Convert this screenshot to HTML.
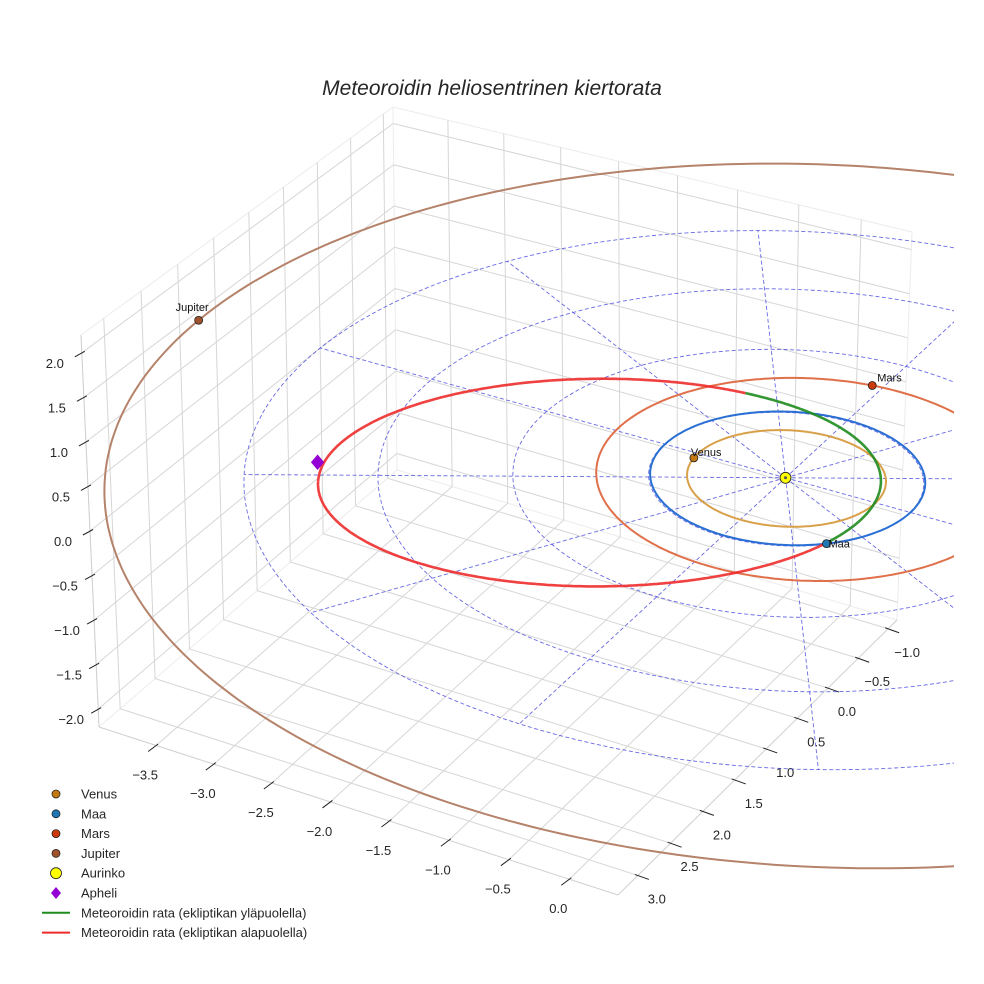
<!DOCTYPE html>
<html><head><meta charset="utf-8"><style>
html,body{margin:0;padding:0;background:#fff;}
svg{display:block;font-family:"Liberation Sans",sans-serif;}
</style></head><body>
<svg id="chart" width="984" height="984" viewBox="0 0 984 984">
<defs><clipPath id="clip"><rect x="0" y="0" width="954" height="984"/></clipPath></defs>
<text x="492" y="95" text-anchor="middle" font-size="21" font-style="italic" fill="#262626">Meteoroidin heliosentrinen kiertorata</text>
<g id="grid"></g>
<g id="ticks"></g>
<g id="plot" clip-path="url(#clip)"></g>
<g id="legend"></g>
</svg>
<script>
// axis limits and ticks
const xLim = [-4.0, 0.4];
const yLim = [-1.15, 3.3];
const zLim = [-2.2, 2.2];
const xTicks = [-3.5, -3.0, -2.5, -2.0, -1.5, -1.0, -0.5, 0.0];
const yTicks = [-1.0, -0.5, 0.0, 0.5, 1.0, 1.5, 2.0, 2.5, 3.0];
const zTicks = [-2.0, -1.5, -1.0, -0.5, 0.0, 0.5, 1.0, 1.5, 2.0];
// planets (AU, degrees)
const planetNames = ["Venus", "Maa", "Mars", "Jupiter"];
const planetSma = [0.723, 1.0, 1.524, 5.2];
const planetEcc = [0.007, 0.017, 0.093, 0.03];
const planetPeriLon = [131, 103, 140, 150];
const planetAngles = [174, 46, -93, 179];
// polar ecliptic grid
const gridRadii = [1, 2, 3, 4];
const gridAngles = [0, 30, 60, 90, 120, 150, 180, 210, 240, 270, 300, 330];
// meteoroid orbit: perihelion q, aphelion Q, perihelion longitude, inclination, node anomalies
const meteorQ = [0.69];
const meteorAph = [3.45];
const meteorPeriLon = [-29];
const meteorIncl = [2];
const meteorNodes = [-101, 74];
const aphelionZ = [0.1];

const NS = "http://www.w3.org/2000/svg";
function mk(tag, attrs, parent){const e=document.createElementNS(NS,tag);for(const k in attrs)e.setAttribute(k,attrs[k]);parent.appendChild(e);return e;}
function homog(p){
  const [x0,y0]=p[0],[x1,y1]=p[1],[x2,y2]=p[2],[x3,y3]=p[3];
  const sx=x0-x1+x2-x3, sy=y0-y1+y2-y3;
  const dx1=x1-x2,dx2=x3-x2,dy1=y1-y2,dy2=y3-y2;
  const den=dx1*dy2-dx2*dy1;
  const g=(sx*dy2-dx2*sy)/den, h=(dx1*sy-sx*dy1)/den;
  const a=x1-x0+g*x1,b=x3-x0+h*x3,c=x0,d=y1-y0+g*y1,e=y3-y0+h*y3,f=y0;
  return (u,v)=>{const w=g*u+h*v+1;return [(a*u+b*v+c)/w,(d*u+e*v+f)/w];};
}
const floorH = homog([[397,470],[897,620],[618,895],[99,727]]);
const topH = homog([[393,107],[912,232],[621,493],[81,335]]);
function proj(x,y,z){
  const u=(x-xLim[0])/(xLim[1]-xLim[0]), v=(y-yLim[0])/(yLim[1]-yLim[0]);
  const t=(z-zLim[0])/(zLim[1]-zLim[0]);
  const a=floorH(u,v), b=topH(u,v);
  return [a[0]+t*(b[0]-a[0]), a[1]+t*(b[1]-a[1])];
}
function line3(p,q,attrs,parent){const a=proj(...p),b=proj(...q);return mk("line",Object.assign({x1:a[0],y1:a[1],x2:b[0],y2:b[1]},attrs),parent);}
function path3(pts,attrs,parent){let d="";pts.forEach((p,i)=>{const s=proj(...p);d+=(i?"L":"M")+s[0].toFixed(1)+","+s[1].toFixed(1);});return mk("path",Object.assign({d:d,fill:"none"},attrs),parent);}

const grid=document.getElementById("grid");
const gs={stroke:"#d6d6d6","stroke-width":1};
const es={stroke:"#ececec","stroke-width":1};
const [X0,X1]=xLim,[Y0,Y1]=yLim,[Z0,Z1]=zLim;
[[[X0,Y0,Z0],[X0,Y0,Z1]],[[X0,Y1,Z0],[X0,Y1,Z1]],[[X1,Y0,Z0],[X1,Y0,Z1]],[[X0,Y0,Z1],[X0,Y1,Z1]],[[X0,Y0,Z1],[X1,Y0,Z1]],[[X0,Y0,Z0],[X1,Y0,Z0]],[[X0,Y0,Z0],[X0,Y1,Z0]]].forEach(e=>{
  const l=line3(e[0],e[1],es,grid);
  
  
});
yTicks.forEach(y=>{
  const a=line3([X0,y,Z0],[X0,y,Z1],gs,grid);
  
  
  const b=line3([X0,y,Z0],[X1,y,Z0],gs,grid);
  
  
});
xTicks.forEach(x=>{
  const a=line3([x,Y0,Z0],[x,Y0,Z1],gs,grid);
  
  
  const b=line3([x,Y0,Z0],[x,Y1,Z0],gs,grid);
  
  
});
zTicks.forEach(z=>{
  const a=line3([X0,Y0,z],[X0,Y1,z],gs,grid);
  
  
  const b=line3([X0,Y0,z],[X1,Y0,z],gs,grid);
  
  
});
[[[X0,Y1,Z0],[X1,Y1,Z0]],[[X1,Y1,Z0],[X1,Y0,Z0]],[[X0,Y1,Z0],[X0,Y1,Z1]]].forEach(e=>{
  const l=line3(e[0],e[1],{stroke:"#cfcfcf","stroke-width":1},grid);
  
  
});

const ticks=document.getElementById("ticks");
function fmt(v){return (v<0?"\u2212":"")+Math.abs(v).toFixed(1);}
function tick(p,d1,d2,name){
  const l=mk("line",{x1:p[0]+d1[0],y1:p[1]+d1[1],x2:p[0]+d2[0],y2:p[1]+d2[1],stroke:"#222","stroke-width":1},ticks);
  
  
}
xTicks.forEach(x=>{
  const p=proj(x,Y1,Z0);
  tick(p,[2,-1.5],[-8,6],'x');
  const t=mk("text",{x:p[0]-11,y:p[1]+34,"text-anchor":"middle","font-size":13,fill:"#262626"},ticks);
  t.textContent=fmt(x);
  
  
});
yTicks.forEach(y=>{
  const p=proj(X1,y,Z0);
  tick(p,[-3,-1],[11,4],'y');
  const t=mk("text",{x:p[0]+19,y:p[1]+28,"text-anchor":"middle","font-size":13,fill:"#262626"},ticks);
  t.textContent=fmt(y);
  
  
});
zTicks.forEach(z=>{
  const p=proj(X0,Y1,z);
  tick(p,[3,-1.5],[-7,4],'z');
  const t=mk("text",{x:p[0]-27,y:p[1]+15,"text-anchor":"middle","font-size":13,fill:"#262626"},ticks);
  t.textContent=fmt(z);
  
  
});

const plot=document.getElementById("plot");
const rad=Math.PI/180;
const dash={stroke:"#4444dd","stroke-width":0.9,"stroke-dasharray":"4,2.5",opacity:0.8};
gridRadii.forEach(r=>{
  const pts=[];for(let k=0;k<=360;k+=2)pts.push([r*Math.cos(k*rad),r*Math.sin(k*rad),0]);
  const p=path3(pts,dash,plot);
  
  
});
const rMax=gridRadii[gridRadii.length-1];
gridAngles.forEach(a=>{
  const l=line3([0,0,0],[rMax*Math.cos(a*rad),rMax*Math.sin(a*rad),0],dash,plot);
  
  
});
const orbitColors=["#d9a04a","#2a6fd4","#e0704a","#b5826a"];
const dotColors=["#c47a12","#1f77b4","#cc3a0a","#a0522d"];
function orbitPoint(i,lon){
  const a=planetSma[i],e=planetEcc[i],w=planetPeriLon[i]*rad;
  const nu=lon*rad-w;
  const r=a*(1-e*e)/(1+e*Math.cos(nu));
  return [r*Math.cos(lon*rad),r*Math.sin(lon*rad),0];
}
planetSma.forEach((a,i)=>{
  const pts=[];for(let k=0;k<=360;k+=1)pts.push(orbitPoint(i,k));
  const p=path3(pts,{stroke:orbitColors[i],"stroke-width":2},plot);
  
  
});
const q=meteorQ[0],Qa=meteorAph[0];
const sma=(q+Qa)/2, ecc=(Qa-q)/(Qa+q), pl=sma*(1-ecc*ecc);
const w=meteorPeriLon[0]*rad, inc=meteorIncl[0]*rad;
const n1=meteorNodes[0], n2=meteorNodes[1];
let segs=[],cur=[],curSign=null;
for(let k=0;k<=720;k++){
  const nd=-180+k*0.5, nu=nd*rad;
  const r=pl/(1+ecc*Math.cos(nu));
  let f;
  if(nd>=n1&&nd<=n2) f=Math.sin(Math.PI*(nd-n1)/(n2-n1));
  else { let d=nd-n2; if(d<0)d+=360; f=-Math.sin(Math.PI*d/(360-(n2-n1))); }
  const z=r*Math.sin(inc)*f;
  const pt=[r*Math.cos(nu+w),r*Math.sin(nu+w),z];
  const s=z>=0;
  if(curSign===null)curSign=s;
  if(s!==curSign){cur.push(pt);segs.push([curSign,cur]);cur=[pt];curSign=s;}
  else cur.push(pt);
}
segs.push([curSign,cur]);
segs.forEach(sg=>{
  const p=path3(sg[1],{stroke:sg[0]?"#1e8c1e":"#ee2c2c","stroke-width":2.6,"stroke-linejoin":"round",opacity:0.9},plot);
  
  
});
const labOff=[[-3,-2,"start"],[2,4,"start"],[5,-4,"start"],[10,-9,"end"]];
planetSma.forEach((a,i)=>{
  const s=proj(...orbitPoint(i,planetAngles[i]));
  const c=mk("circle",{cx:s[0],cy:s[1],r:4,fill:dotColors[i],stroke:"#222","stroke-width":0.8},plot);
  
  
  const t=mk("text",{x:s[0]+labOff[i][0],y:s[1]+labOff[i][1],"font-size":11,fill:"#111","text-anchor":labOff[i][2]},plot);
  t.textContent=planetNames[i];
  
  
});
const sp=proj(0,0,0);
const sun=mk("circle",{cx:sp[0],cy:sp[1],r:5.5,fill:"#ffff00",stroke:"#222","stroke-width":0.9},plot);


const sunIn=mk("circle",{cx:sp[0],cy:sp[1],r:1.5,fill:"#555"},plot);


const ap=proj(Qa*Math.cos(w+Math.PI),Qa*Math.sin(w+Math.PI),aphelionZ[0]);
const dm=mk("path",{d:`M${ap[0]},${ap[1]-7}L${ap[0]+6},${ap[1]}L${ap[0]},${ap[1]+7}L${ap[0]-6},${ap[1]}Z`,fill:"#9400d3",stroke:"#9400d3","stroke-width":1},plot);



const lg=document.getElementById("legend");
const legendLabels=["Venus","Maa","Mars","Jupiter","Aurinko","Apheli","Meteoroidin rata (ekliptikan yläpuolella)","Meteoroidin rata (ekliptikan alapuolella)"];
legendLabels.forEach((lab,i)=>{
  const y=794+i*19.8;
  let m;
  if(i<4)m=mk("circle",{cx:56,cy:y,r:4,fill:dotColors[i],stroke:"#222","stroke-width":0.8},lg);
  else if(i===4)m=mk("circle",{cx:56,cy:y,r:5.5,fill:"#ffff00",stroke:"#222","stroke-width":0.8},lg);
  else if(i===5)m=mk("path",{d:`M56,${y-6}L61,${y}L56,${y+6}L51,${y}Z`,fill:"#9400d3"},lg);
  else m=mk("line",{x1:42,y1:y,x2:70,y2:y,stroke:i===6?"#1e8c1e":"#ee2c2c","stroke-width":2},lg);
  
  
  const t=mk("text",{x:81,y:y+4.5,"font-size":13,fill:"#262626"},lg);
  t.textContent=lab;
  
  
});
</script>
</body></html>
